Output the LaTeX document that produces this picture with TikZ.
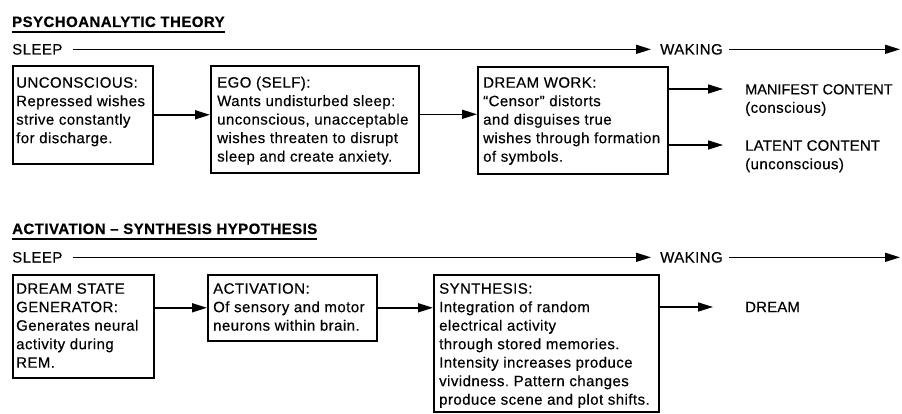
\documentclass[tikz,border=0pt]{standalone}
\usepackage{fontspec}
\setmainfont[LetterSpace=3, FakeBold=0.4]{Liberation Sans}
\usetikzlibrary{arrows.meta}
\frenchspacing
\begin{document}
\begin{tikzpicture}[x=1pt,y=-1pt,
  every node/.style={inner sep=0pt, font=\fontsize{15}{18.5}\selectfont},
  boxnode/.style={draw, line width=1.6pt, anchor=north west},
  txt/.style={align=left, anchor=north west},
  lbl/.style={align=left, anchor=north west},
  ttl/.style={anchor=base west, font=\fontsize{15}{18}\selectfont\bfseries},
  arr/.style={line width=1.5pt, -{Triangle[length=15pt,width=9pt]}},
  uline/.style={line width=1.8pt}
]
\useasboundingbox (0,0) rectangle (902,414);

% ---------- Psychoanalytic theory ----------
\node[ttl] (t1) at (12,27) {PSYCHOANALYTIC THEORY};
\draw[uline] ([yshift=-5]t1.base west) -- ([yshift=-5]t1.base east);

\node[anchor=base west] (sl1) at (12,54.5) {SLEEP};
\node[anchor=base west] (wk1) at (660,54.5) {WAKING};
\coordinate (e1) at (900,0);
\draw[arr, shorten <=10pt, shorten >=9pt] (sl1.east) -- (wk1.west);
\draw[arr, shorten <=6pt] (wk1.east) -- (wk1.east -| e1);

\node[boxnode, minimum width=140, minimum height=98] (unc) at (12,65) {};
\node[boxnode, minimum width=208, minimum height=107] (ego) at (210,65) {};
\node[boxnode, minimum width=190, minimum height=107] (dw) at (477,66) {};

\node[txt] (unct) at (16,77) {UNCONSCIOUS:\\Repressed wishes\\strive constantly\\for discharge.};
\node[txt] (egot) at (217,76.5) {EGO (SELF):\\Wants undisturbed sleep:\\unconscious, unacceptable\\wishes threaten to disrupt\\sleep and create anxiety.};
\node[txt] (dwt) at (483,77) {DREAM WORK:\\``Censor'' distorts\\and disguises true\\wishes through formation\\of symbols.};

\draw[arr] (unc.east) -- (unc.east -| ego.west);
\draw[arr] ([yshift=5]ego.east) -- ([yshift=5]ego.east -| dw.west);

\coordinate (mc) at (723,89);
\coordinate (lc) at (723,145);
\draw[arr] (dw.east |- mc) -- (mc);
\draw[arr] (dw.east |- lc) -- (lc);
\node[lbl] (man) at (745,84) {{\addfontfeature{LetterSpace=0}\fontsize{14.5}{18.5}\selectfont MANIFEST CONTENT}\\(conscious)};
\node[lbl] (lat) at (745,140) {{\addfontfeature{LetterSpace=1}LATENT CONTENT}\\(unconscious)};

% ---------- Activation-synthesis hypothesis ----------
\node[ttl] (t2) at (12,234) {ACTIVATION -- SYNTHESIS HYPOTHESIS};
\draw[uline] ([yshift=-5]t2.base west) -- ([yshift=-5]t2.base east);

\node[anchor=base west] (sl2) at (12,262.5) {SLEEP};
\node[anchor=base west] (wk2) at (660,262.5) {WAKING};
\draw[arr, shorten <=10pt, shorten >=9pt] (sl2.east) -- (wk2.west);
\draw[arr, shorten <=6pt] (wk2.east) -- (wk2.east -| e1);

\node[boxnode, minimum width=141, minimum height=103] (dsg) at (12,274) {};
\node[boxnode, minimum width=169, minimum height=66] (act) at (207,274) {};
\node[boxnode, minimum width=225, minimum height=137] (syn) at (433,274) {};

\node[txt] (dsgt) at (16,283) {DREAM STATE\\GENERATOR:\\Generates neural\\activity during\\REM.};
\node[txt] (actt) at (213,283) {ACTIVATION:\\Of sensory and motor\\neurons within brain.};
\node[txt] (synt) at (439,283) {SYNTHESIS:\\Integration of random\\electrical activity\\through stored memories.\\Intensity increases produce\\vividness. Pattern changes\\produce scene and plot shifts.};

\draw[arr] (act.west -| dsg.east) -- (act.west);
\draw[arr] (act.east) -- (act.east -| syn.west);
\coordinate (dr) at (713,307);
\draw[arr] (syn.east |- dr) -- (dr);
\node[anchor=west] (drm) at (745,307) {{\addfontfeature{LetterSpace=1}DREAM}};
\end{tikzpicture}
\end{document}
